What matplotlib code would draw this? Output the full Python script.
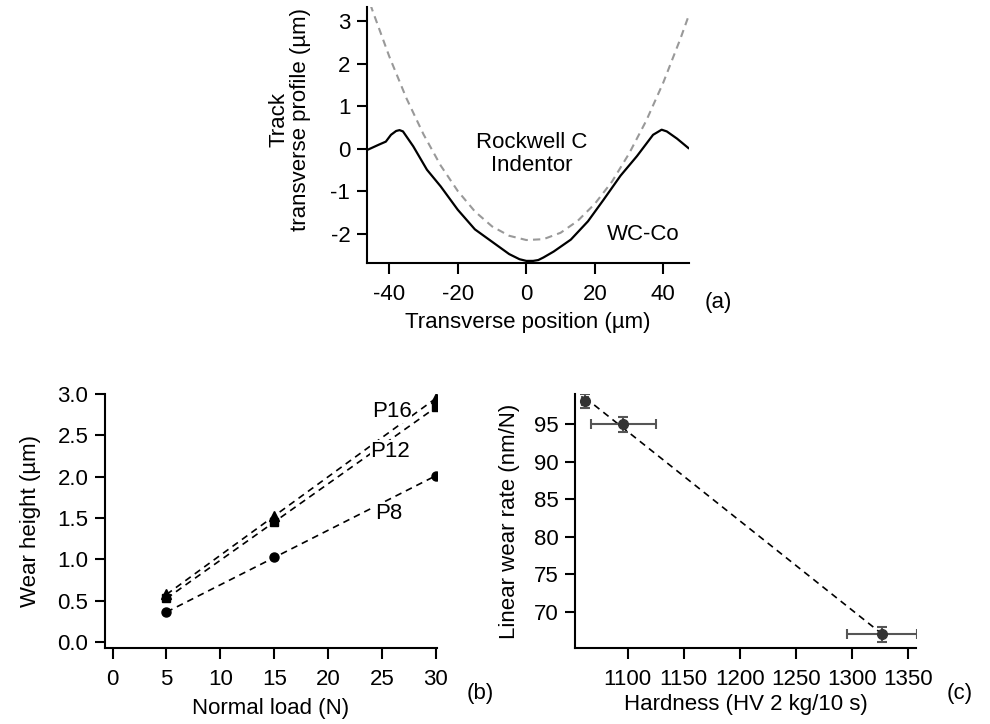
import matplotlib
matplotlib.use("Agg")
import matplotlib.pyplot as plt
import numpy as np

plt.rcParams["font.family"] = ["Liberation Sans", "DejaVu Sans"]
plt.rcParams["font.size"] = 16
plt.rcParams["axes.unicode_minus"] = False

# (a) track transverse profile
track_x = [-46.0, -43, -41, -39.5, -38, -37, -36, -33, -29, -25, -20, -15, -10, -5, -2, 0, 2,
           3.5, 5, 8, 13, 18, 22.5, 27.5, 32.3, 37, 39.5, 41, 44, 47.3]
track_y = [-0.01, 0.10, 0.17, 0.33, 0.42, 0.44, 0.41, 0.06, -0.49, -0.88, -1.43, -1.89, -2.18,
           -2.47, -2.59, -2.63, -2.63, -2.61, -2.55, -2.41, -2.13, -1.70, -1.20, -0.63, -0.17,
           0.33, 0.45, 0.41, 0.24, 0.02]
indentor_x = [-45.5, -45, -40, -35, -30, -25, -20, -15, -10, -5, 0, 5, 10, 15, 20, 25, 30, 35,
              40, 45, 47.5]
indentor_y = [3.39, 3.27, 2.17, 1.19, 0.34, -0.39, -0.99, -1.47, -1.82, -2.04, -2.14, -2.12,
              -1.97, -1.69, -1.29, -0.77, -0.11, 0.66, 1.56, 2.59, 3.15]

# (b) wear height vs normal load
load = [5, 15, 30]
wear_p8 = [0.36, 1.03, 2.01]
wear_p12 = [0.53, 1.45, 2.84]
wear_p16 = [0.58, 1.52, 2.95]

# (c) linear wear rate vs hardness
hardness = [1062, 1096, 1327]
hardness_err = [3, 29, 31]
rate = [98.05, 95.0, 67.0]
rate_err = [0.95, 1.0, 1.0]

fig = plt.figure(figsize=(9.9, 7.24), dpi=100)


def style(ax):
    for s in ["top", "right"]:
        ax.spines[s].set_visible(False)
    for s in ["left", "bottom"]:
        ax.spines[s].set_linewidth(1.5)
    ax.tick_params(direction="out", width=1.5, labelsize=16)
    ax.tick_params(axis="x", length=8, pad=7)
    ax.tick_params(axis="y", length=7, pad=5)


# ---- panel (a)
ax1 = fig.add_axes([0.3707, 0.6367, 0.3253, 0.3536])
style(ax1)
ax1.plot(indentor_x, indentor_y, color="#999999", lw=1.5, dashes=(3.5, 2.5))
ax1.plot(track_x, track_y, color="black", lw=1.6)
ax1.set_xlim(-46.5, 47.5)
ax1.set_ylim(-2.68, 3.33)
ax1.set_xticks([-40, -20, 0, 20, 40])
ax1.set_yticks([-2, -1, 0, 1, 2, 3])
ax1.set_xlabel("Transverse position (µm)", labelpad=5)
ax1.set_ylabel("Track\ntransverse profile (µm)", linespacing=1.0)
ax1.yaxis.set_label_coords(-0.175, 0.56)
ax1.text(1.5, -0.12, "Rockwell C\nIndentor", ha="center", va="center", linespacing=1.1)
ax1.text(34, -2.0, "WC-Co", ha="center", va="center")
fig.text(718 / 990, 1 - 303 / 724, "(a)", ha="center", va="center")

# ---- panel (b)
ax2 = fig.add_axes([0.1061, 0.105, 0.3353, 0.3508])
style(ax2)
for vals, mk, ms in [(wear_p8, "o", 6.5), (wear_p12, "s", 6), (wear_p16, "^", 7.5)]:
    k, b = np.polyfit(load, vals, 1)
    ax2.plot([load[0], load[-1]], [k * load[0] + b, k * load[-1] + b], color="black",
             lw=1.2, dashes=(4, 3))
    ax2.plot(load, vals, mk, color="black", ms=ms, zorder=3)
box = dict(facecolor="white", edgecolor="none", pad=0.5)
ax2.text(25.9, 2.79, "P16", ha="center", va="center", bbox=box)
ax2.text(25.75, 2.31, "P12", ha="center", va="center", bbox=box)
ax2.text(25.6, 1.56, "P8", ha="center", va="center", bbox=box)
ax2.set_xlim(-0.7, 30.1)
ax2.set_ylim(-0.07, 3.0)
ax2.set_xticks(range(0, 31, 5))
ax2.set_yticks(np.arange(0, 3.01, 0.5))
ax2.set_yticklabels([f"{v:.1f}" for v in np.arange(0, 3.01, 0.5)])
ax2.set_xlabel("Normal load (N)", labelpad=6)
ax2.set_ylabel("Wear height (µm)", labelpad=12)
fig.text(480 / 990, 1 - 693 / 724, "(b)", ha="center", va="center")

# ---- panel (c)
ax3 = fig.add_axes([0.5808, 0.105, 0.3445, 0.3508])
style(ax3)
k, b = np.polyfit(hardness, rate, 1)
ax3.plot([hardness[0], hardness[-1]], [k * hardness[0] + b, k * hardness[-1] + b],
         color="black", lw=1.2, dashes=(4, 3))
ax3.errorbar(hardness, rate, xerr=hardness_err, yerr=rate_err, fmt="o", color="#333333",
             ecolor="#555555", ms=7, elinewidth=1.5, capsize=3.5, capthick=1.5, zorder=3)
ax3.set_xlim(1053, 1357.4)
ax3.set_ylim(65.2, 99)
ax3.set_xticks(range(1100, 1351, 50))
ax3.set_yticks(range(70, 96, 5))
ax3.set_xlabel("Hardness (HV 2 kg/10 s)", labelpad=3)
ax3.set_ylabel("Linear wear rate (nm/N)", labelpad=10)
fig.text(960 / 990, 1 - 693 / 724, "(c)", ha="center", va="center")

fig.savefig("out.png", dpi=100)
